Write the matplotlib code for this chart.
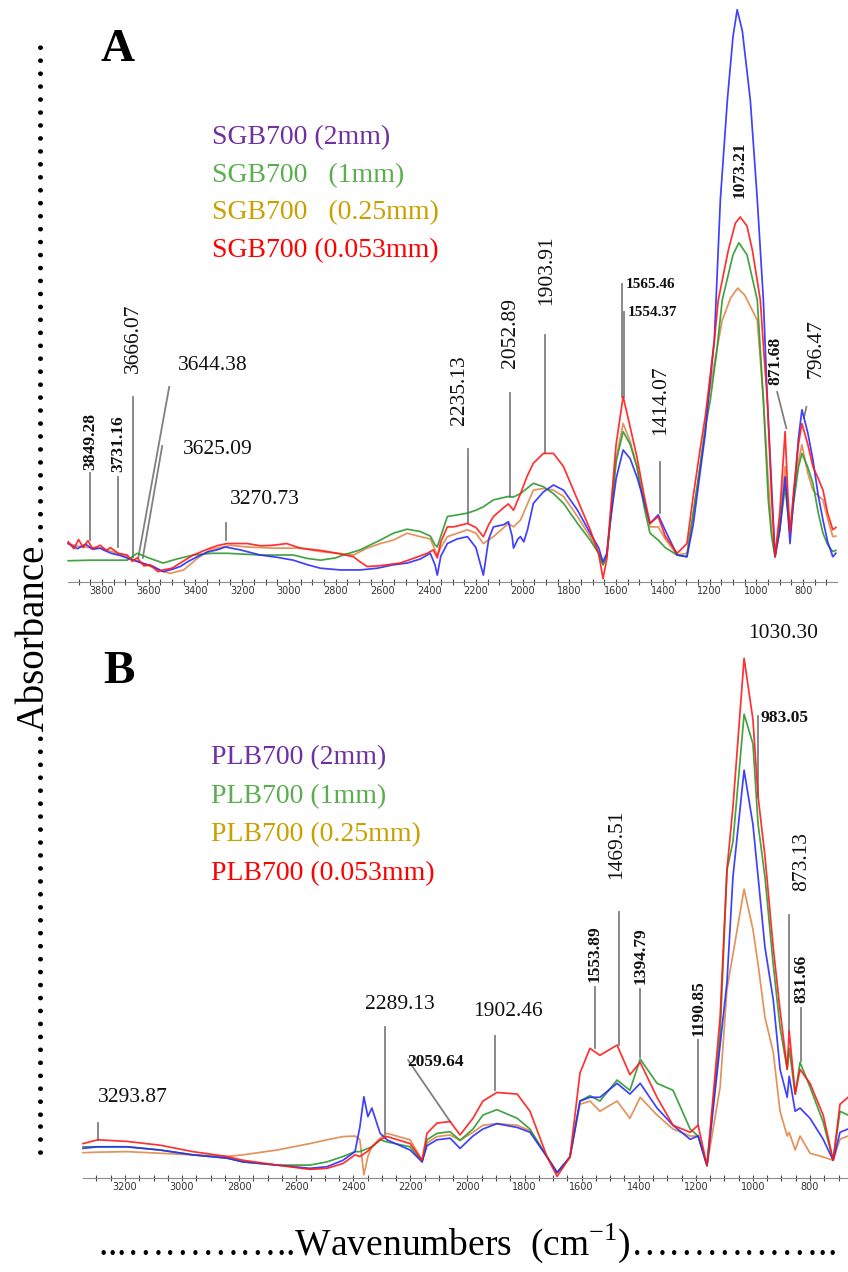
import numpy as np
import matplotlib.pyplot as plt
from matplotlib.ticker import MultipleLocator

plt.rcParams['font.family'] = ['Liberation Serif', 'DejaVu Serif']
plt.rcParams['mathtext.fontset'] = 'custom'
plt.rcParams['mathtext.rm'] = 'Liberation Serif'

########## Panel A : SGB700 ##########
a_blue_wn = [3944, 3905, 3870, 3840, 3807, 3794, 3760, 3720, 3666, 3620, 3580, 3538, 3500, 3465, 3430, 3392,
             3350, 3307, 3272, 3208, 3123, 3050, 2981, 2920, 2865, 2780, 2695, 2622, 2553, 2494, 2438, 2395,
             2375, 2365, 2350, 2322, 2280, 2236, 2200, 2168, 2145, 2125, 2080, 2061, 2045, 2039, 2020, 2009,
             1995, 1979, 1954, 1911, 1868, 1825, 1765, 1711, 1675, 1656, 1640, 1626, 1600, 1570, 1540, 1511,
             1480, 1455, 1420, 1390, 1339, 1297, 1270, 1241, 1218, 1206, 1180, 1154, 1124, 1100, 1082, 1060,
             1026, 996, 970, 953, 932, 920, 900, 877, 865, 856, 840, 820, 805, 780, 758, 735, 715, 695, 673, 660]
a_blue_abs = [0.067, 0.058, 0.066, 0.057, 0.059, 0.056, 0.050, 0.046, 0.038, 0.032, 0.027, 0.018, 0.022, 0.027,
              0.036, 0.044, 0.052, 0.056, 0.061, 0.056, 0.047, 0.043, 0.038, 0.030, 0.024, 0.021, 0.021, 0.024,
              0.030, 0.033, 0.040, 0.050, 0.030, 0.012, 0.045, 0.067, 0.075, 0.079, 0.060, 0.012, 0.075, 0.096,
              0.100, 0.105, 0.080, 0.059, 0.075, 0.079, 0.070, 0.091, 0.137, 0.157, 0.169, 0.160, 0.125, 0.085,
              0.060, 0.035, 0.050, 0.102, 0.180, 0.230, 0.215, 0.183, 0.140, 0.102, 0.117, 0.090, 0.047, 0.044,
              0.100, 0.190, 0.260, 0.317, 0.420, 0.666, 0.840, 0.950, 0.997, 0.960, 0.840, 0.666, 0.491, 0.317,
              0.143, 0.044, 0.090, 0.183, 0.120, 0.067, 0.150, 0.250, 0.300, 0.260, 0.213, 0.150, 0.108, 0.070,
              0.044, 0.050]

a_green_wn = [3944, 3850, 3750, 3692, 3649, 3600, 3538, 3480, 3409, 3330, 3264, 3120, 2981, 2920, 2865, 2800,
              2767, 2695, 2650, 2609, 2553, 2494, 2438, 2395, 2375, 2365, 2350, 2322, 2236, 2200, 2168, 2125,
              2061, 2040, 2009, 1954, 1911, 1868, 1825, 1765, 1711, 1675, 1656, 1640, 1626, 1600, 1570, 1540,
              1511, 1480, 1455, 1420, 1390, 1339, 1297, 1270, 1241, 1218, 1197, 1170, 1146, 1100, 1075, 1040,
              996, 970, 949, 935, 920, 900, 877, 865, 856, 840, 820, 805, 780, 758, 735, 715, 695, 673, 660]
a_green_abs = [0.037, 0.038, 0.038, 0.038, 0.050, 0.042, 0.033, 0.040, 0.047, 0.050, 0.050, 0.047, 0.047, 0.041,
               0.038, 0.042, 0.047, 0.056, 0.065, 0.073, 0.085, 0.092, 0.088, 0.080, 0.065, 0.061, 0.080, 0.114,
               0.120, 0.125, 0.131, 0.143, 0.149, 0.148, 0.154, 0.172, 0.166, 0.154, 0.137, 0.102, 0.073, 0.050,
               0.030, 0.045, 0.100, 0.210, 0.262, 0.240, 0.201, 0.130, 0.085, 0.073, 0.060, 0.047, 0.044, 0.120,
               0.201, 0.270, 0.317, 0.400, 0.491, 0.570, 0.591, 0.570, 0.491, 0.317, 0.143, 0.080, 0.044, 0.090,
               0.166, 0.120, 0.085, 0.140, 0.200, 0.224, 0.200, 0.172, 0.120, 0.085, 0.065, 0.053, 0.055]

a_orange_wn = [3944, 3900, 3850, 3807, 3750, 3692, 3640, 3593, 3550, 3508, 3450, 3392, 3337, 3250, 3179, 3067,
               2951, 2865, 2793, 2724, 2665, 2609, 2553, 2494, 2438, 2395, 2365, 2350, 2322, 2236, 2200, 2168,
               2125, 2061, 2039, 2009, 1954, 1911, 1868, 1825, 1765, 1711, 1675, 1656, 1640, 1626, 1600, 1570,
               1540, 1511, 1480, 1455, 1420, 1390, 1339, 1297, 1270, 1241, 1218, 1206, 1180, 1146, 1110, 1080,
               1050, 996, 970, 950, 935, 920, 900, 877, 865, 856, 840, 820, 805, 780, 758, 735, 715, 695, 673, 660]
a_orange_abs = [0.067, 0.062, 0.060, 0.059, 0.052, 0.044, 0.035, 0.027, 0.020, 0.015, 0.021, 0.041, 0.056, 0.064,
                0.061, 0.059, 0.059, 0.053, 0.050, 0.047, 0.059, 0.067, 0.073, 0.085, 0.079, 0.075, 0.047, 0.060,
                0.079, 0.091, 0.085, 0.067, 0.079, 0.102, 0.096, 0.108, 0.160, 0.163, 0.160, 0.149, 0.114, 0.079,
                0.050, 0.030, 0.045, 0.100, 0.215, 0.276, 0.245, 0.201, 0.140, 0.096, 0.096, 0.075, 0.047, 0.050,
                0.120, 0.201, 0.270, 0.317, 0.380, 0.456, 0.495, 0.512, 0.500, 0.456, 0.317, 0.180, 0.090, 0.044,
                0.110, 0.201, 0.130, 0.085, 0.150, 0.210, 0.239, 0.190, 0.160, 0.150, 0.143, 0.110, 0.079, 0.080]

a_red_wn = [3944, 3920, 3900, 3880, 3860, 3840, 3807, 3780, 3764, 3730, 3692, 3670, 3649, 3620, 3593, 3560, 3538,
            3500, 3465, 3409, 3337, 3300, 3264, 3179, 3120, 3067, 3010, 2951, 2865, 2793, 2724, 2695, 2665, 2620,
            2579, 2524, 2468, 2408, 2382, 2365, 2350, 2322, 2296, 2236, 2200, 2168, 2145, 2125, 2080, 2061, 2039,
            2009, 1980, 1954, 1911, 1868, 1825, 1765, 1711, 1675, 1656, 1640, 1626, 1600, 1570, 1540, 1511, 1480,
            1455, 1420, 1390, 1339, 1297, 1270, 1241, 1218, 1206, 1180, 1163, 1120, 1090, 1069, 1040, 1017, 983,
            968, 953, 935, 920, 900, 877, 865, 856, 840, 820, 805, 780, 758, 735, 715, 695, 673, 660]
a_red_abs = [0.070, 0.058, 0.074, 0.060, 0.072, 0.058, 0.064, 0.055, 0.060, 0.050, 0.047, 0.036, 0.042, 0.028,
             0.030, 0.018, 0.021, 0.024, 0.033, 0.047, 0.059, 0.064, 0.067, 0.067, 0.063, 0.064, 0.067, 0.059,
             0.055, 0.050, 0.044, 0.035, 0.027, 0.028, 0.030, 0.033, 0.041, 0.050, 0.056, 0.042, 0.070, 0.096,
             0.096, 0.102, 0.095, 0.079, 0.100, 0.114, 0.130, 0.136, 0.125, 0.154, 0.185, 0.207, 0.224, 0.224,
             0.201, 0.143, 0.091, 0.050, 0.006, 0.040, 0.114, 0.240, 0.323, 0.270, 0.218, 0.150, 0.102, 0.114,
             0.080, 0.050, 0.067, 0.150, 0.230, 0.290, 0.330, 0.420, 0.491, 0.578, 0.625, 0.636, 0.620, 0.578,
             0.491, 0.400, 0.317, 0.150, 0.044, 0.120, 0.262, 0.150, 0.085, 0.160, 0.240, 0.276, 0.240, 0.201,
             0.180, 0.160, 0.120, 0.091, 0.095]

a_legend = ["SGB700 (2mm)", "SGB700   (1mm)", "SGB700   (0.25mm)", "SGB700 (0.053mm)"]

########## Panel B : PLB700 ##########
b_wn = [3347, 3295, 3193, 3077, 2962, 2843, 2787, 2667, 2552, 2492, 2436, 2394, 2377, 2363, 2349, 2335, 2306,
        2282, 2201, 2159, 2142, 2107, 2061, 2026, 1981, 1946, 1897, 1826, 1781, 1721, 1686, 1641, 1606, 1571,
        1536, 1476, 1431, 1395, 1336, 1280, 1220, 1192, 1161, 1115, 1091, 1070, 1031, 1000, 982, 958, 929, 905,
        880, 873, 852, 835, 800, 754, 719, 695, 667]
b_red_abs = [0.064, 0.071, 0.068, 0.061, 0.049, 0.040, 0.033, 0.024, 0.016, 0.018, 0.027, 0.043, 0.040, 0.045,
             0.050, 0.058, 0.071, 0.077, 0.064, 0.033, 0.083, 0.102, 0.105, 0.080, 0.111, 0.143, 0.159, 0.156,
             0.124, 0.039, 0.003, 0.039, 0.195, 0.241, 0.228, 0.247, 0.192, 0.215, 0.150, 0.098, 0.085, 0.098,
             0.023, 0.299, 0.573, 0.690, 0.966, 0.852, 0.709, 0.599, 0.429, 0.312, 0.202, 0.273, 0.156, 0.202,
             0.176, 0.117, 0.033, 0.137, 0.150]
b_green_abs = [0.058, 0.058, 0.058, 0.052, 0.043, 0.037, 0.030, 0.024, 0.024, 0.030, 0.040, 0.049, 0.049, 0.052,
               0.055, 0.058, 0.071, 0.067, 0.058, 0.030, 0.071, 0.083, 0.086, 0.070, 0.091, 0.117, 0.127, 0.111,
               0.091, 0.039, 0.010, 0.039, 0.143, 0.153, 0.143, 0.182, 0.163, 0.221, 0.176, 0.163, 0.091, 0.078,
               0.023, 0.267, 0.573, 0.625, 0.862, 0.807, 0.657, 0.560, 0.397, 0.280, 0.202, 0.241, 0.156, 0.215,
               0.169, 0.104, 0.033, 0.124, 0.117]
b_blue_abs = [0.055, 0.058, 0.058, 0.052, 0.043, 0.037, 0.030, 0.024, 0.018, 0.021, 0.033, 0.049, 0.095, 0.151,
              0.114, 0.130, 0.083, 0.071, 0.052, 0.030, 0.060, 0.071, 0.074, 0.055, 0.078, 0.091, 0.101, 0.094,
              0.085, 0.039, 0.010, 0.039, 0.143, 0.150, 0.150, 0.176, 0.156, 0.176, 0.130, 0.098, 0.072, 0.078,
              0.023, 0.247, 0.364, 0.560, 0.758, 0.657, 0.560, 0.429, 0.332, 0.202, 0.150, 0.189, 0.124, 0.130,
              0.111, 0.072, 0.033, 0.085, 0.091]
b_orange_abs = [0.047, 0.048, 0.049, 0.046, 0.043, 0.040, 0.043, 0.052, 0.064, 0.071, 0.077, 0.078, 0.071, 0.006,
                0.040, 0.058, 0.074, 0.083, 0.071, 0.033, 0.065, 0.077, 0.080, 0.070, 0.085, 0.098, 0.101, 0.098,
                0.088, 0.039, 0.010, 0.039, 0.137, 0.143, 0.124, 0.143, 0.111, 0.150, 0.117, 0.091, 0.078, 0.078,
                0.023, 0.169, 0.351, 0.416, 0.537, 0.462, 0.397, 0.299, 0.234, 0.124, 0.078, 0.085, 0.052, 0.078,
                0.046, 0.039, 0.033, 0.072, 0.078]

b_legend = ["PLB700 (2mm)", "PLB700 (1mm)", "PLB700 (0.25mm)", "PLB700 (0.053mm)"]

line_colors = ['#2b2bff', '#2e9a2e', '#e0874a', '#ff1a1a']   # 2mm, 1mm, 0.25mm, 0.053mm
text_colors = ['#7030a0', '#5aae4e', '#c9a000', '#ff0000']

# peak labels: (text, line x0, y0, line x1, y1, text x, text y, rotation, bold, size, ha, va)
a_peaks = [
    ("3849.28", 3849.28, 0.073, 3849.28, 0.190, 3849.28, 0.195, 90, True, 12.5, 'center', 'bottom'),
    ("3731.16", 3731.16, 0.061, 3731.16, 0.183, 3731.16, 0.192, 90, True, 12.5, 'center', 'bottom'),
    ("3666.07", 3666.07, 0.044, 3666.07, 0.322, 3666.07, 0.364, 90, False, 15.5, 'center', 'bottom'),
    ("3644.38", 3644.38, 0.042, 3512, 0.340, 3474, 0.378, 0, False, 15.5, 'left', 'center'),
    ("3625.09", 3625.09, 0.042, 3542, 0.237, 3452, 0.230, 0, False, 15.5, 'left', 'center'),
    ("3270.73", 3270.73, 0.073, 3270.73, 0.103, 3251, 0.143, 0, False, 15.5, 'left', 'center'),
    ("2235.13", 2235.13, 0.103, 2235.13, 0.232, 2272, 0.274, 90, False, 15.5, 'center', 'bottom'),
    ("2052.89", 2052.89, 0.148, 2052.89, 0.329, 2052.89, 0.373, 90, False, 15.5, 'center', 'bottom'),
    ("1903.91", 1903.91, 0.225, 1903.91, 0.430, 1897, 0.483, 90, False, 15.5, 'center', 'bottom'),
    ("1565.46", 1575, 0.322, 1575, 0.519, 1560, 0.519, 0, True, 11, 'left', 'center'),
    ("1554.37", 1565, 0.322, 1565, 0.470, 1552, 0.469, 0, True, 11, 'left', 'center'),
    ("1414.07", 1414.07, 0.120, 1414.07, 0.209, 1410, 0.256, 90, False, 15.5, 'center', 'bottom'),
    ("871.68", 871.68, 0.268, 911, 0.331, 919, 0.343, 90, True, 12.5, 'center', 'bottom'),
    ("796.47", 796.47, 0.286, 786, 0.305, 744, 0.355, 90, False, 15.5, 'center', 'bottom'),
    ("1073.21", None, None, None, None, 1073.21, 0.669, 90, True, 12.5, 'center', 'bottom'),
]
b_peaks = [
    ("3293.87", 3293.87, 0.071, 3293.87, 0.102, 3295, 0.149, 0, False, 15.5, 'left', 'center'),
    ("2289.13", 2289.13, 0.076, 2289.13, 0.281, 2359, 0.322, 0, False, 15.5, 'left', 'center'),
    ("2059.64", 2059.64, 0.104, 2208, 0.219, 2212, 0.216, 0, True, 12.5, 'left', 'center'),
    ("1902.46", 1902.46, 0.164, 1902.46, 0.264, 1981, 0.309, 0, False, 15.5, 'left', 'center'),
    ("1553.89", 1553.89, 0.242, 1553.89, 0.355, 1553.89, 0.364, 90, True, 12.5, 'center', 'bottom'),
    ("1469.51", 1469.51, 0.247, 1469.51, 0.494, 1478, 0.556, 90, False, 15.5, 'center', 'bottom'),
    ("1394.79", 1394.79, 0.225, 1394.79, 0.351, 1394.79, 0.361, 90, True, 12.5, 'center', 'bottom'),
    ("1190.85", 1190.85, 0.097, 1190.85, 0.257, 1190.85, 0.264, 90, True, 12.5, 'center', 'bottom'),
    ("983.05", 983.05, 0.708, 983.05, 0.859, 975, 0.855, 0, True, 12.5, 'left', 'center'),
    ("873.13", 873.13, 0.268, 873.13, 0.489, 828, 0.533, 90, False, 15.5, 'center', 'bottom'),
    ("831.66", 831.66, 0.217, 831.66, 0.316, 831.66, 0.325, 90, True, 12.5, 'center', 'bottom'),
    ("1030.30", None, None, None, None, 895, 1.013, 0, False, 15.5, 'center', 'center'),
]


def draw_panel(ax, series, xlim, ylim, peaks):
    for wn, ab, col in series:
        ax.plot(wn, ab, color=col, lw=1.25, alpha=0.9, clip_on=False)
    for (txt, x0, y0, x1, y1, tx, ty, rot, bold, size, ha, va) in peaks:
        if x0 is not None:
            ax.plot([x0, x1], [y0, y1], color='#808080', lw=1.3, clip_on=False, zorder=1)
        ax.text(tx, ty, txt, rotation=rot, fontsize=size, ha=ha, va=va,
                fontweight='bold' if bold else 'normal', color='#111111', clip_on=False)
    ax.set_xlim(xlim)
    ax.set_ylim(ylim)
    for s in ['top', 'left', 'right']:
        ax.spines[s].set_visible(False)
    ax.spines['bottom'].set_color('#8c8c8c')
    ax.set_yticks([])
    ax.xaxis.set_major_locator(MultipleLocator(200))
    ax.xaxis.set_minor_locator(MultipleLocator(50))
    ax.tick_params(axis='x', which='both', direction='inout', length=4, width=0.8, color='#444444',
                   labelsize=7, labelcolor='#333333', pad=1)
    for lab in ax.get_xticklabels():
        lab.set_family('DejaVu Sans')
    ax.patch.set_alpha(0)


fig = plt.figure(figsize=(8.48, 12.72), dpi=100)

axA = fig.add_axes([68 / 848, 1 - 582 / 1272, (837 - 68) / 848, 574 / 1272])
draw_panel(axA, [(a_orange_wn, a_orange_abs, line_colors[2]), (a_green_wn, a_green_abs, line_colors[1]),
                 (a_blue_wn, a_blue_abs, line_colors[0]), (a_red_wn, a_red_abs, line_colors[3])],
           (3945, 655), (0, 1), a_peaks)

axB = fig.add_axes([83 / 848, 1 - 1178 / 1272, (848 - 83) / 848, 538 / 1272])
draw_panel(axB, [(b_wn, b_orange_abs, line_colors[2]), (b_wn, b_green_abs, line_colors[1]),
                 (b_wn, b_blue_abs, line_colors[0]), (b_wn, b_red_abs, line_colors[3])],
           (3347, 667), (0, 1), b_peaks)

# panel letters and coloured legend text
fig.text(118 / 848, 1 - 50 / 1272, "A", fontsize=34, fontweight='bold', ha='center', va='center')
fig.text(119 / 848, 1 - 672 / 1272, "B", fontsize=34, fontweight='bold', ha='center', va='center')
for i, (la, lb) in enumerate(zip(a_legend, b_legend)):
    fig.text(212 / 848, 1 - (138 + 37.5 * i) / 1272, la, fontsize=20, color=text_colors[i], va='center')
    fig.text(211 / 848, 1 - (758 + 38.5 * i) / 1272, lb, fontsize=20, color=text_colors[i], va='center')

# axis titles, written with dot leaders as in the original
fig.text(30 / 848, 1 - 595 / 1272, "\u2026" * 11 + "Absorbance" + "\u2026" * 13, rotation=90,
         fontsize=28, ha='center', va='center')
fig.text(467 / 848, 1 - 1243 / 1272, "..." + "\u2026" * 4 + "..Wavenumbers  (cm$^{-1}$)" + "\u2026" * 5 + "..",
         fontsize=27, ha='center', va='center')

fig.savefig('out.png', dpi=100)
